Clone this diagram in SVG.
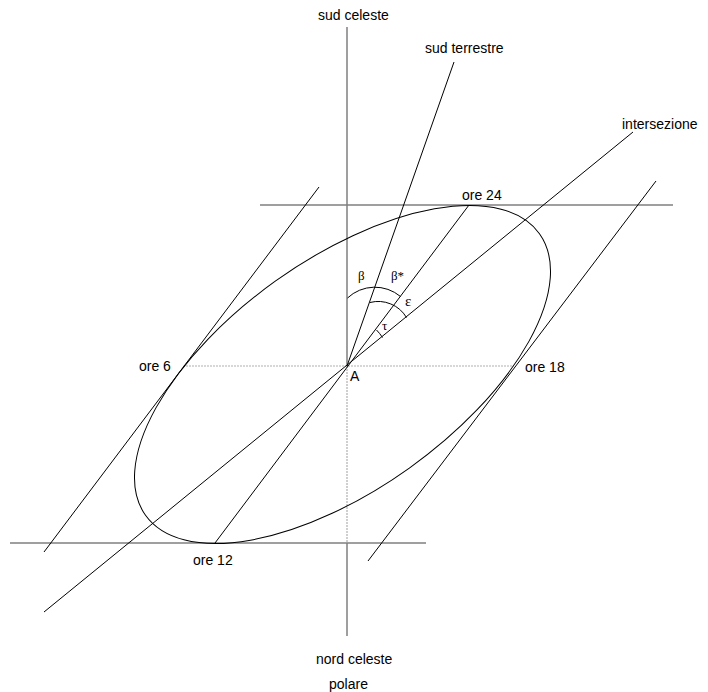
<svg xmlns="http://www.w3.org/2000/svg" width="708" height="692" viewBox="0 0 708 692">
<style>
.ax{stroke:#7f7f7f;stroke-width:1.5;fill:none}
.dot{stroke:#b0b0b0;stroke-width:1.2;stroke-dasharray:2 1;fill:none}
.ln{stroke:#000;stroke-width:1;fill:none}
.lbl{font-family:"Liberation Sans",Arial,sans-serif;font-size:14px;fill:#000}
.gr{font-family:"Liberation Serif","Times New Roman",serif;font-size:13px;fill:#000}
</style>
<rect width="708" height="692" fill="#fff"/>
<g id="axes">
<line class="ax" x1="347" y1="27" x2="347" y2="366"/>
<line class="dot" x1="347" y1="366" x2="347" y2="543"/>
<line class="ax" x1="347" y1="543" x2="347" y2="636"/>
<line class="ax" x1="260" y1="205" x2="673" y2="205"/>
<line class="ax" x1="10" y1="543" x2="426" y2="543"/>
<line class="dot" x1="183" y1="366" x2="514" y2="366"/>
</g>
<g id="ellipse">
<ellipse class="ln" cx="342.5" cy="374.5" rx="242.1" ry="115" transform="rotate(-35.55 342.5 374.5)"/>
</g>
<g id="connectors">
<line class="ln" x1="454" y1="62" x2="347" y2="366"/>
<line class="ln" x1="633" y1="132" x2="44" y2="612"/>
<line class="ln" x1="469" y1="205" x2="215" y2="543"/>
<line class="ln" x1="319" y1="187" x2="44" y2="552"/>
<line class="ln" x1="656" y1="181" x2="368" y2="561"/>
</g>
<g id="angles">
<path class="ln" d="M347.5,298 A40,40 0 0,1 400.5,296.5"/>
<path class="ln" d="M370,302.5 A33,33 0 0,1 406.5,317.5"/>
<path class="ln" d="M376.5,330 A45,45 0 0,1 382.5,337.5"/>
</g>
<g id="labels">
<text class="lbl" x="318" y="20">sud celeste</text>
<text class="lbl" x="425" y="53">sud terrestre</text>
<text class="lbl" x="622" y="129">intersezione</text>
<text class="lbl" x="462" y="200">ore 24</text>
<text class="lbl" x="139" y="371">ore 6</text>
<text class="lbl" x="525" y="372">ore 18</text>
<text class="lbl" x="350" y="381">A</text>
<text class="lbl" x="193" y="565">ore 12</text>
<text class="lbl" x="316" y="664">nord celeste</text>
<text class="lbl" x="329" y="689">polare</text>
<text class="gr" x="358" y="280">β</text>
<text class="gr" x="391" y="280">β*</text>
<text class="gr" x="405" y="306" style="font-size:15px">ε</text>
<text class="gr" x="382" y="330">τ</text>
</g>
</svg>
